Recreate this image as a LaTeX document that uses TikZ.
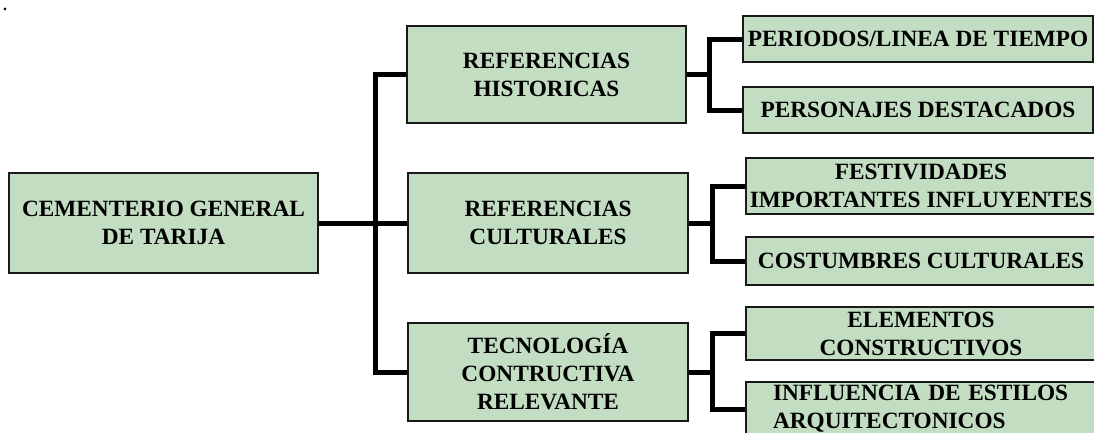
\documentclass[tikz,border=0pt]{standalone}
\usepackage{fontspec}
\setmainfont{Liberation Serif}
\definecolor{boxgreen}{RGB}{194,221,194}
\begin{document}
\begin{tikzpicture}[x=1pt,y=-1pt,
  box/.style={draw=black!90, line width=1.6pt, fill=boxgreen, inner sep=0pt, align=center,
              font=\fontsize{23.3}{28}\selectfont\bfseries},
  conn/.style={line width=5pt, line join=miter, line cap=butt}]
\useasboundingbox (0,0) rectangle (1094,432);
\node[anchor=base west, inner sep=0pt, font=\fontsize{16}{16}\selectfont\bfseries] (dot) at (3,10) {.};

\node[box, minimum width=309pt, minimum height=100pt] (root) at (163.5,223) {CEMENTERIO GENERAL\\DE TARIJA};

\node[box, minimum width=279pt, minimum height=97pt] (m1) at (546.5,74.5) {REFERENCIAS\\HISTORICAS};
\node[box, minimum width=280pt, minimum height=100pt] (m2) at (548,223) {REFERENCIAS\\CULTURALES};
\node[box, minimum width=280pt, minimum height=98pt] (m3) at (548,372) {TECNOLOGÍA\\CONTRUCTIVA\\RELEVANTE};

\node[box, minimum width=350pt, minimum height=46pt] (l1) at (918,39) {PERIODOS/LINEA DE TIEMPO};
\node[box, minimum width=350pt, minimum height=46pt] (l2) at (918,110) {PERSONAJES DESTACADOS};
\node[box, minimum width=350pt, minimum height=56pt] (l3) at (921,186) {FESTIVIDADES\\IMPORTANTES INFLUYENTES};
\node[box, minimum width=350pt, minimum height=48pt] (l4) at (921,261) {COSTUMBRES CULTURALES};
\node[box, minimum width=350pt, minimum height=53pt] (l5) at (921,333.5) {ELEMENTOS\\CONSTRUCTIVOS};
\node[box, minimum width=350pt, minimum height=54pt, text width=296pt, align=left] (l6) at (921,409) {INFLUENCIA DE ESTILOS\\ARQUITECTONICOS};

\coordinate (bus) at (375,223);
\coordinate (j1) at (709,74.5);
\coordinate (j2) at (712,223);
\coordinate (j3) at (712,372);

\draw[conn] (root.east) -- (bus);
\draw[conn] (m1.west) -| (bus) |- (m3.west);
\draw[conn] (m2.west) -- (bus);

\draw[conn] (m1.east) -- (j1);
\draw[conn] (l1.west) -| (j1) |- (l2.west);
\draw[conn] (m2.east) -- (j2);
\draw[conn] (l3.west) -| (j2) |- (l4.west);
\draw[conn] (m3.east) -- (j3);
\draw[conn] (l5.west) -| (j3) |- (l6.west);
\end{tikzpicture}
\end{document}
